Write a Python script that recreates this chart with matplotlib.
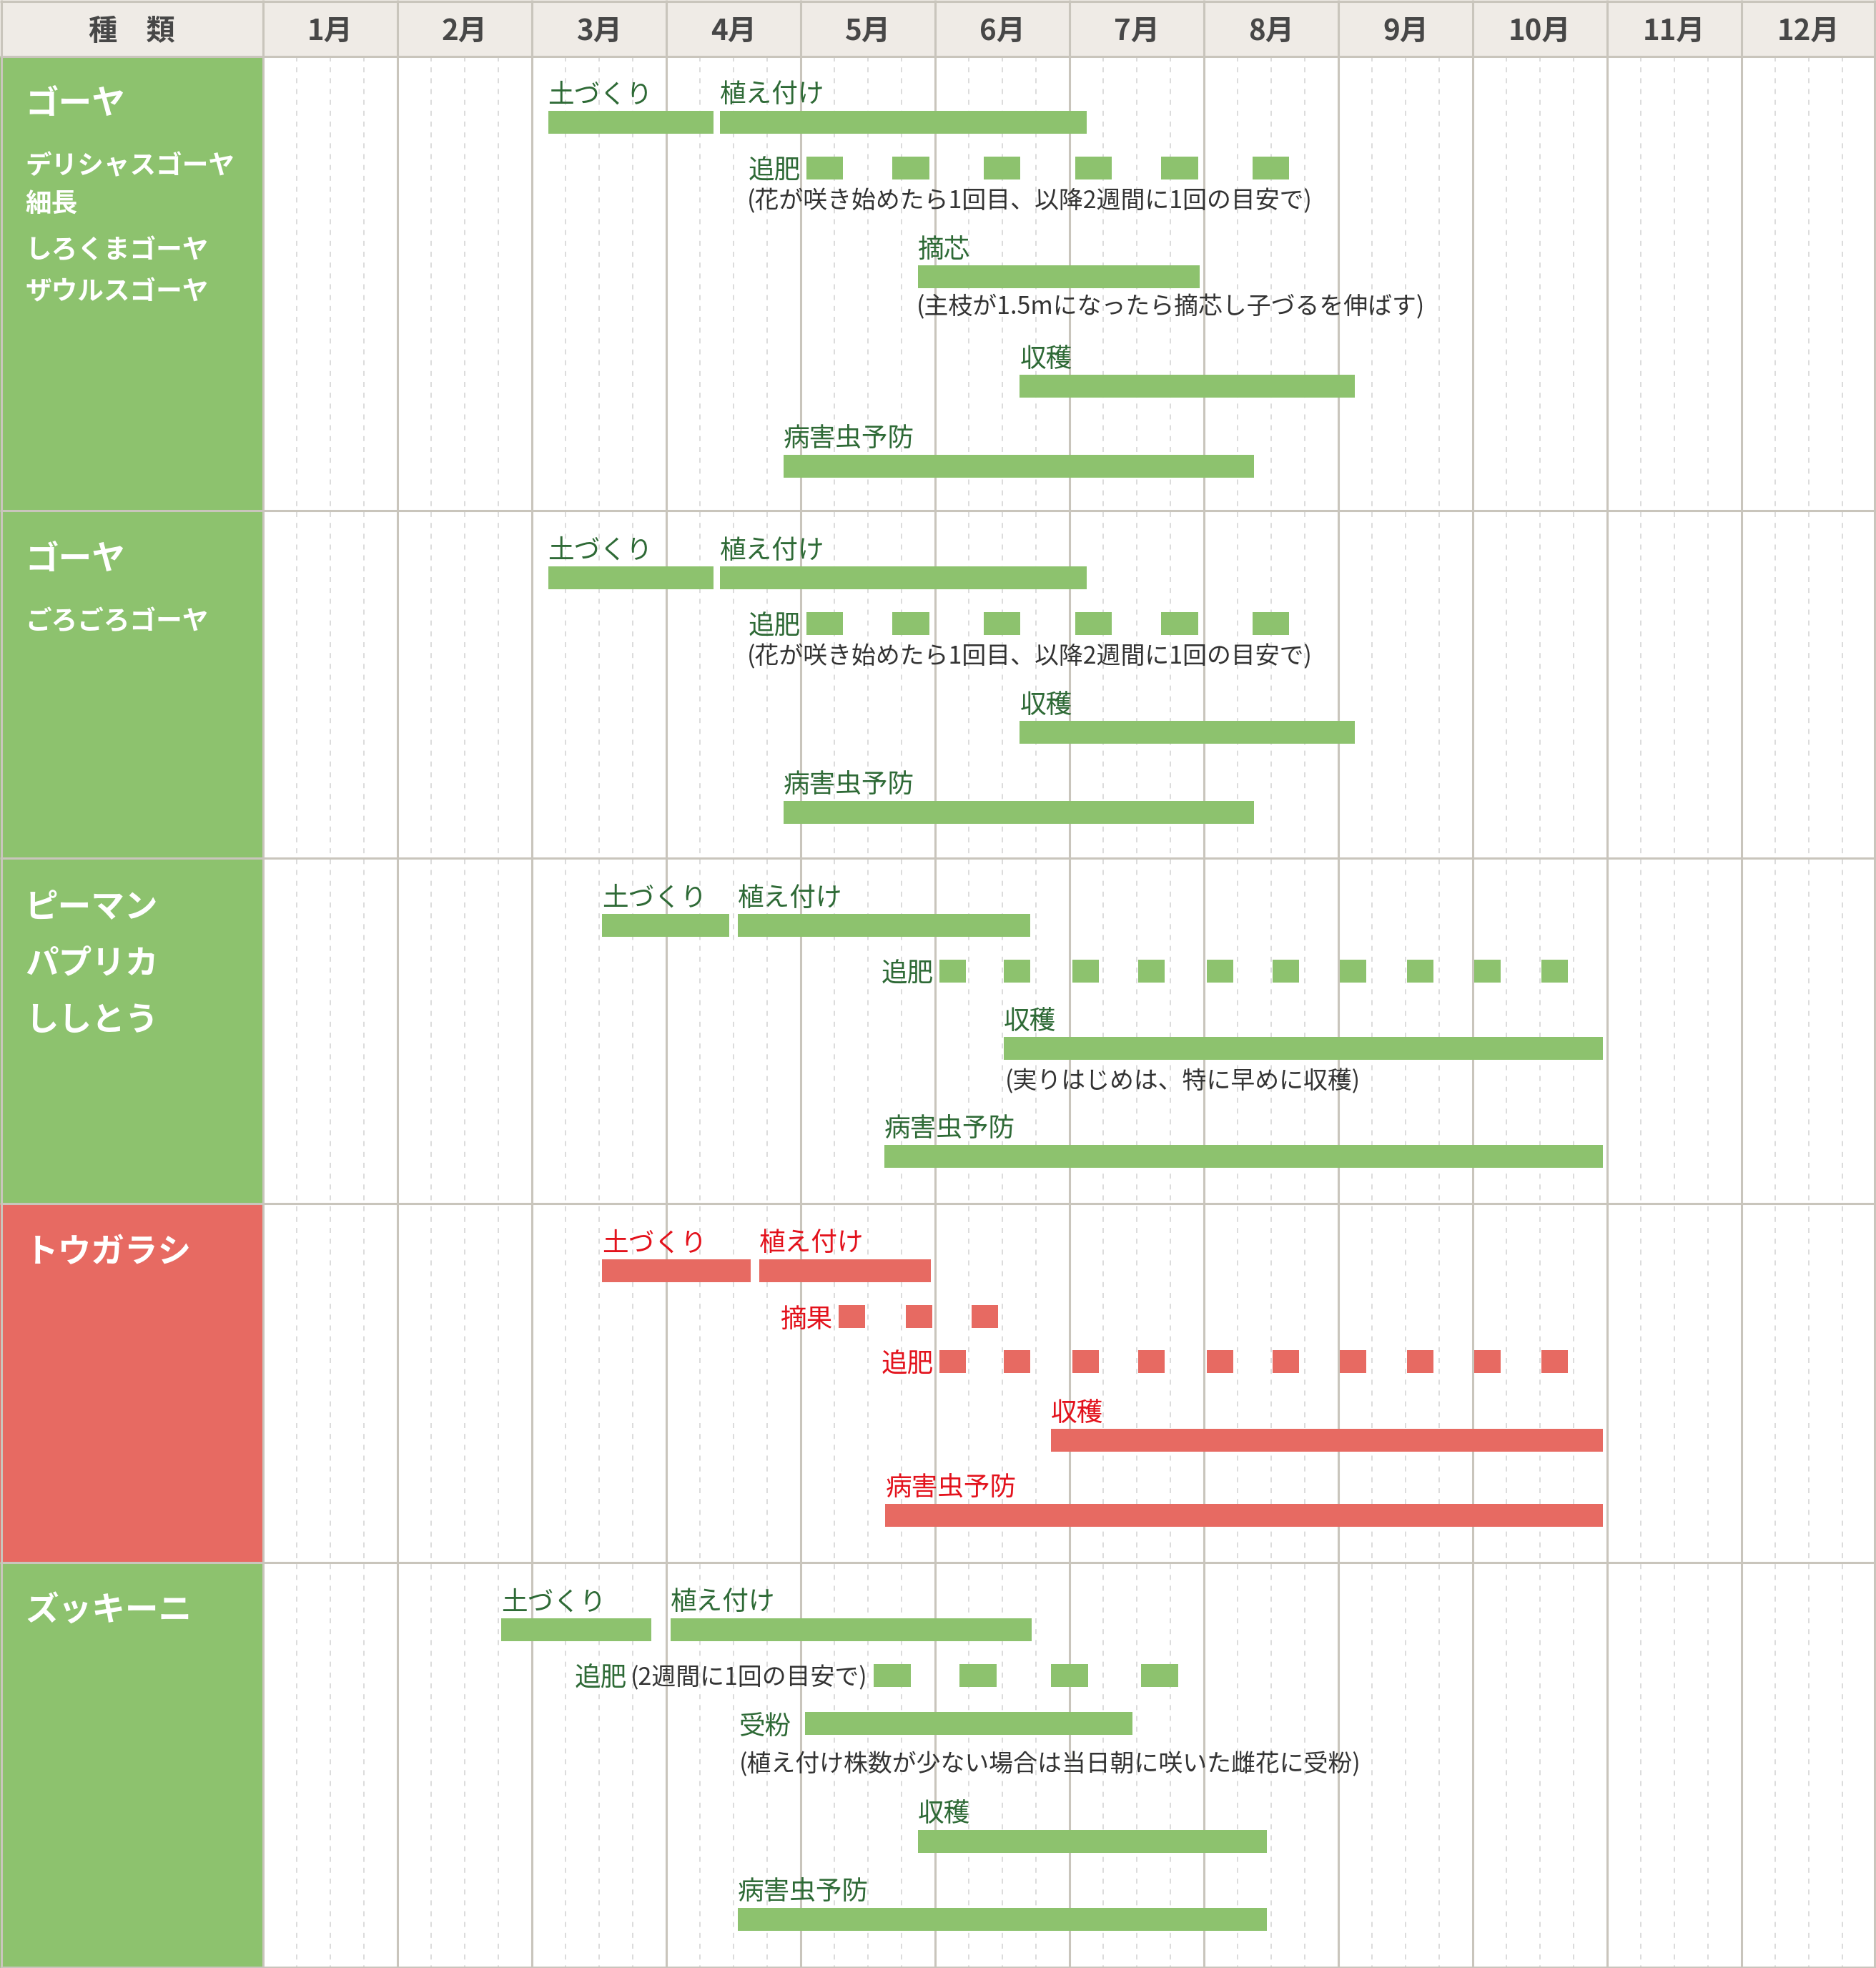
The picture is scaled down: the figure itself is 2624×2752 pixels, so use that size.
import matplotlib
matplotlib.use('Agg')
import matplotlib.pyplot as plt

plt.rcParams['font.family'] = ['Noto Sans CJK JP', 'DejaVu Sans']

# ── Data (month units: 0 = start of 1月, 12 = end of 12月) ───────────────────
MONTHS = ['1月', '2月', '3月', '4月', '5月', '6月', '7月', '8月', '9月', '10月', '11月', '12月']
HEADER_LEFT = '種　類'

goya1_titles = ['ゴーヤ']
goya1_varieties = ['デリシャスゴーヤ', '細長', 'しろくまゴーヤ', 'ザウルスゴーヤ']
goya1_bars = [('土づくり', 2.12, 3.35), ('植え付け', 3.40, 6.13), ('摘芯', 4.87, 6.97),
              ('収穫', 5.63, 8.12), ('病害虫予防', 3.87, 7.37)]
goya_fert = [4.04, 4.68, 5.36, 6.04, 6.68, 7.36]
goya_fert_len = 0.275

goya2_titles = ['ゴーヤ']
goya2_varieties = ['ごろごろゴーヤ']
goya2_bars = [('土づくり', 2.12, 3.35), ('植え付け', 3.40, 6.13),
              ('収穫', 5.63, 8.12), ('病害虫予防', 3.87, 7.37)]

pepper_titles = ['ピーマン', 'パプリカ', 'ししとう']
pepper_bars = [('土づくり', 2.52, 3.47), ('植え付け', 3.53, 5.71),
               ('収穫', 5.51, 9.97), ('病害虫予防', 4.62, 9.97)]
pepper_fert = [5.03, 5.51, 6.02, 6.51, 7.02, 7.51, 8.01, 8.51, 9.01, 9.51]
pepper_fert_len = 0.20

chili_titles = ['トウガラシ']
chili_bars = [('土づくり', 2.52, 3.63), ('植え付け', 3.69, 4.97),
              ('収穫', 5.86, 9.97), ('病害虫予防', 4.63, 9.97)]
chili_thin = [4.28, 4.78, 5.27]
chili_fert = [5.03, 5.51, 6.02, 6.51, 7.02, 7.51, 8.01, 8.51, 9.01, 9.51]
chili_len = 0.20

zuc_titles = ['ズッキーニ']
zuc_bars = [('土づくり', 1.77, 2.89), ('植え付け', 3.03, 5.72),
            ('収穫', 4.87, 7.47), ('病害虫予防', 3.53, 7.47)]
zuc_pollinate = (4.03, 6.47)
zuc_fert = [4.54, 5.18, 5.86, 6.53]
zuc_fert_len = 0.28

NOTE_GOYA_FERT = '(花が咲き始めたら1回目、以降2週間に1回の目安で)'
NOTE_PINCH = '(主枝が1.5mになったら摘芯し子づるを伸ばす)'
NOTE_PEPPER = '(実りはじめは、特に早めに収穫)'
NOTE_ZUC_FERT = '(2週間に1回の目安で)'
NOTE_ZUC_POLL = '(植え付け株数が少ない場合は当日朝に咲いた雌花に受粉)'

# ── Style / layout (pixels of the 2624x2752 canvas) ──────────────────────────
W, H = 2624, 2752
LEFT_PX, MONTH_PX = 368, 188
HEADER_H = 79
ROW_EDGES = [79, 714, 1200, 1683, 2185, 2752]

GREEN = '#8dc26e'
RED = '#e76a62'
TXT_GREEN = '#2e6a36'
TXT_RED = '#e3121c'
NOTE = '#333333'
HEAD_BG = '#efebe6'
HEAD_TXT = '#474747'
LINE = '#c9c5bc'
DASH = '#dcdcdc'
BAR_H = 32
LBL_FS, NOTE_FS = 13.2, 12.2
DY = 4   # small downward nudge for CJK text centring


def mx(px):
    return (px - LEFT_PX) / MONTH_PX


fig = plt.figure(figsize=(W / 200, H / 200), dpi=200, facecolor='white')
ax = fig.add_axes([0, 0, 1, 1])
ax.set_xlim(mx(0), 12)
ax.set_ylim(H, 0)
ax.axis('off')

# ── Grid ─────────────────────────────────────────────────────────────────────
ax.axhspan(0, HEADER_H, color=HEAD_BG, zorder=0)
left_colors = [GREEN, GREEN, GREEN, RED, GREEN]
for (y0, y1), c in zip(zip(ROW_EDGES[:-1], ROW_EDGES[1:]), left_colors):
    ax.fill_between([mx(0), 0], y0, y1, color=c, lw=0, zorder=0)

for m in range(12):
    for q in (0.25, 0.5, 0.75):
        ax.vlines(m + q, HEADER_H, H, colors=DASH, lw=0.7,
                  linestyles=(0, (3.6, 4.2)), zorder=1)
ax.vlines(range(12), 0, H, colors=LINE, lw=1.1, zorder=2)
ax.vlines([mx(1.5), mx(2622)], 0, H, colors=LINE, lw=1.1, zorder=2)
ax.hlines(ROW_EDGES[:-1] + [1.5, H - 1.5], mx(0), 12, colors=LINE, lw=1.1, zorder=2)

# ── Header ───────────────────────────────────────────────────────────────────
ax.text(mx(184), 40 + DY, HEADER_LEFT, ha='center', va='center', fontsize=14.5,
        fontweight='bold', color=HEAD_TXT)
for i, name in enumerate(MONTHS):
    ax.text(i + 0.5, 40 + DY, name, ha='center', va='center', fontsize=14.5,
            fontweight='bold', color=HEAD_TXT)


# ── Helpers ──────────────────────────────────────────────────────────────────
def names(titles, title_y, varieties=(), variety_y=()):
    for t, y in zip(titles, title_y):
        ax.text(mx(35), y + DY + 1, t, ha='left', va='center', fontsize=16.8,
                fontweight='bold', color='white', zorder=5)
    for t, y in zip(varieties, variety_y):
        ax.text(mx(35), y + DY + 1, t, ha='left', va='center', fontsize=13.2,
                fontweight='bold', color='white', zorder=5)


def bar(label, start, end, y, color, tcolor):
    ax.barh(y, end - start, left=start, height=BAR_H, color=color, lw=0, zorder=3)
    ax.text(start, y - 42 + DY, label, ha='left', va='center', fontsize=LBL_FS,
            color=tcolor, zorder=5)


def dots(label, starts, length, y, color, tcolor, fs=LBL_FS):
    ax.barh([y] * len(starts), length, left=starts, height=BAR_H, color=color,
            lw=0, zorder=3)
    return ax.text(starts[0] - 0.04, y + DY, label, ha='right', va='center',
                   fontsize=fs, color=tcolor, zorder=5)


def note(text, x, y):
    ax.text(x, y + DY, text, ha='left', va='center', fontsize=NOTE_FS, color=NOTE,
            zorder=5)


# ── ゴーヤ (1) ───────────────────────────────────────────────────────────────
names(goya1_titles, [140], goya1_varieties, [228, 281, 346, 404])
for (lbl, s, e), y in zip(goya1_bars, [171, 171, 387, 540, 652]):
    bar(lbl, s, e, y, GREEN, TXT_GREEN)
dots('追肥', goya_fert, goya_fert_len, 235, GREEN, TXT_GREEN)
note(NOTE_GOYA_FERT, 3.60, 278)
note(NOTE_PINCH, 4.86, 426)

# ── ゴーヤ (2) ───────────────────────────────────────────────────────────────
names(goya2_titles, [777], goya2_varieties, [865])
for (lbl, s, e), y in zip(goya2_bars, [808, 808, 1024, 1136]):
    bar(lbl, s, e, y, GREEN, TXT_GREEN)
dots('追肥', goya_fert, goya_fert_len, 872, GREEN, TXT_GREEN)
note(NOTE_GOYA_FERT, 3.60, 915)

# ── ピーマン ─────────────────────────────────────────────────────────────────
names(pepper_titles, [1264, 1343, 1422])
for (lbl, s, e), y in zip(pepper_bars, [1294, 1294, 1466, 1617]):
    bar(lbl, s, e, y, GREEN, TXT_GREEN)
dots('追肥', pepper_fert, pepper_fert_len, 1358, GREEN, TXT_GREEN)
note(NOTE_PEPPER, 5.52, 1509)

# ── トウガラシ ───────────────────────────────────────────────────────────────
names(chili_titles, [1746])
for (lbl, s, e), y in zip(chili_bars, [1777, 1777, 2014, 2119]):
    bar(lbl, s, e, y, RED, TXT_RED)
dots('摘果', chili_thin, chili_len, 1841, RED, TXT_RED)
dots('追肥', chili_fert, chili_len, 1904, RED, TXT_RED)

# ── ズッキーニ ───────────────────────────────────────────────────────────────
names(zuc_titles, [2248])
for (lbl, s, e), y in zip(zuc_bars, [2279, 2279, 2575, 2684]):
    bar(lbl, s, e, y, GREEN, TXT_GREEN)
t = dots(NOTE_ZUC_FERT, zuc_fert, zuc_fert_len, 2343, GREEN, NOTE, fs=NOTE_FS)
ax.annotate('追肥', xy=(0, 0.5), xycoords=t, xytext=(-2, 0), textcoords='offset points',
            ha='right', va='center', fontsize=LBL_FS, color=TXT_GREEN, zorder=5)
ax.barh(2410, zuc_pollinate[1] - zuc_pollinate[0], left=zuc_pollinate[0],
        height=BAR_H, color=GREEN, lw=0, zorder=3)
ax.text(zuc_pollinate[0] - 0.1, 2410 + DY, '受粉', ha='right', va='center',
        fontsize=LBL_FS, color=TXT_GREEN, zorder=5)
note(NOTE_ZUC_POLL, 3.54, 2464)

fig.savefig('out.png', dpi=200, facecolor='white')
